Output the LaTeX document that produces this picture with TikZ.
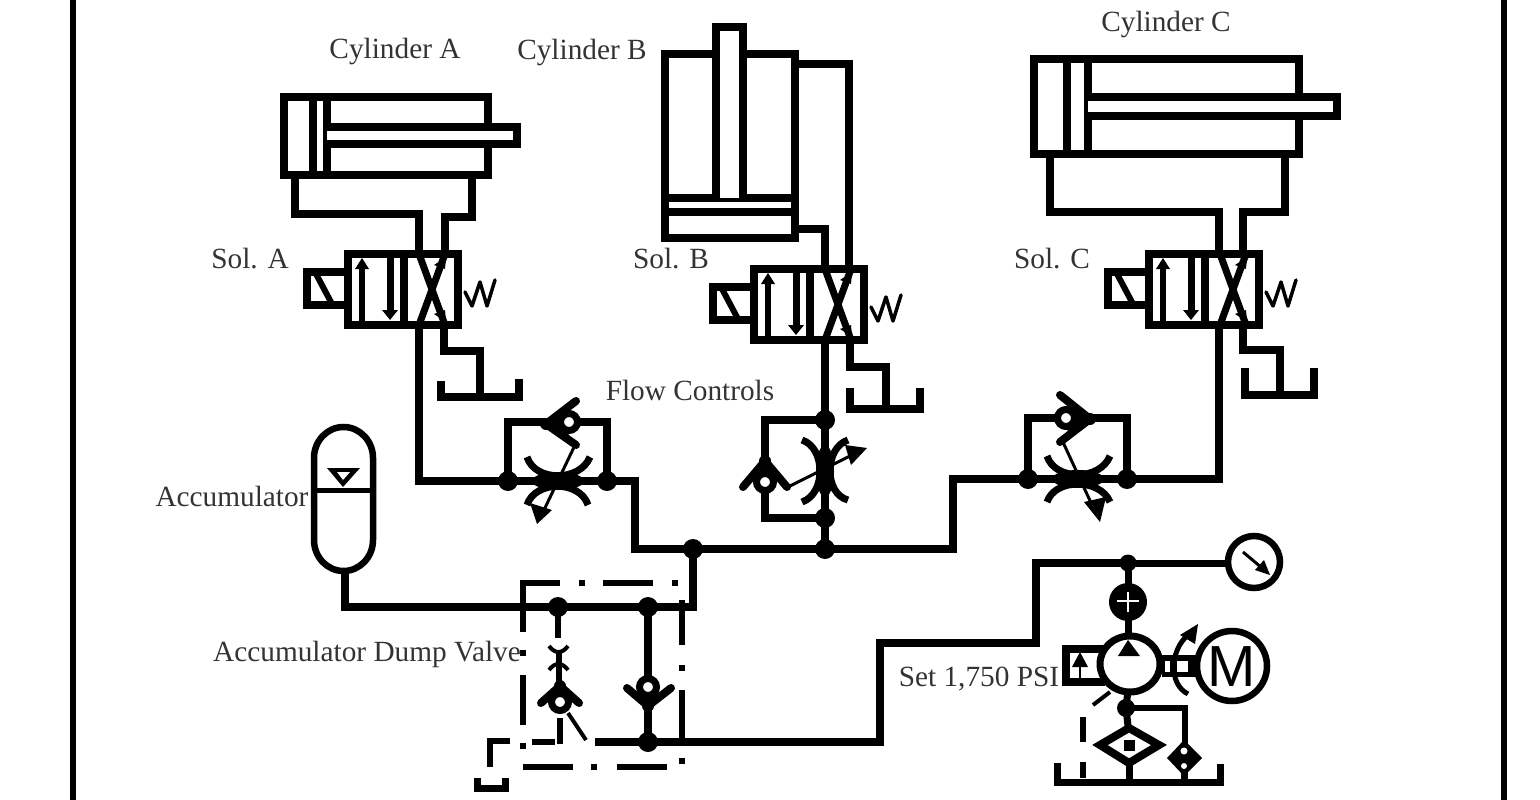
\documentclass[tikz,border=0pt]{standalone}
\usepackage{fontspec}
\setmainfont{Liberation Serif}
\newfontfamily\motorfont{Liberation Sans}
\usetikzlibrary{arrows.meta,calc}
\definecolor{lblgrey}{HTML}{333333}
\tikzset{
  pipe/.style={line width=8pt,line cap=butt,line join=miter},
  hull/.style={line width=8pt,line join=miter},
  pilot/.style={line width=5.5pt},
  lbl/.style={text=lblgrey,font=\fontsize{29.3}{29.3}\selectfont,inner sep=0pt,anchor=center},
  smalldot/.style={fill=black,inner sep=0pt,minimum size=6pt},
}
\newcommand{\dcv}[1]{%
\begin{scope}[shift={#1}]
  \draw[hull,fill=white] (-41,18) rectangle (0,51);
  \draw[line width=6pt] (-33,18) -- (-16,50);
  \draw[hull,fill=white] (0,0) rectangle (110,71);
  \draw[line width=5.5pt] (14,8) -- (14,68);
  \fill (7,15) -- (14,4) -- (21,15) -- cycle;
  \draw[line width=7pt] (42,3) -- (42,60);
  \fill (34,56) -- (42,66) -- (50,56) -- cycle;
  \draw[line width=8pt] (56,3) -- (56,68);
  \draw[line width=7pt] (71,0) -- (97,71);
  \draw[line width=7pt] (97,0) -- (71,71);
  \fill (86,11) -- (98,3) -- (97,15) -- cycle;
  \fill (86,60) -- (98,68) -- (97,56) -- cycle;
  \draw[line width=3.5pt,line join=round,line cap=round] (117,38) -- (124,52) -- (132,28) -- (139,52) -- (147,26);
\end{scope}}
\newcommand{\chkv}[4]{% ball, apex, leg1, leg2
  \fill #2 -- ($#2!0.75!#3$) -- ($#2!0.75!#4$) -- cycle;
  \draw[line width=8pt,line join=miter,line cap=round] #3 -- #2 -- #4;
  \draw[line width=7pt,fill=white] #1 circle (8.5);
  \fill #2 circle (6);}
\newcommand{\jdot}[1]{\fill (#1) circle (10);}
\begin{document}
\begin{tikzpicture}[x=1pt,y=-1pt]
\useasboundingbox (0,0) rectangle (1540,800);
\fill[white] (0,0) rectangle (1540,800);
% frame
\coordinate (fl1) at (73,0); \coordinate (fl2) at (73,800);
\coordinate (fr1) at (1504,0); \coordinate (fr2) at (1504,800);
\draw[line width=6pt] (fl1) -- (fl2);
\draw[line width=6pt] (fr1) -- (fr2);
% named points
\coordinate (vAp) at (419,328); \coordinate (vBp) at (825,343); \coordinate (vCp) at (1219,328);
\coordinate (jA1) at (508,481);
\coordinate (jA2) at (607,481);
\coordinate (jC1) at (1028,479);
\coordinate (jC2) at (1127,479);
\coordinate (jB1) at (825,420);
\coordinate (jB2) at (825,518);
\coordinate (jB3) at (825,549);
\coordinate (jM) at (693,549);
\coordinate (jD1) at (558,607);
\coordinate (jD2) at (648,607);
\coordinate (jD3) at (648,742);
\coordinate (jP) at (1128,563);
\coordinate (jS) at (1126,708);
% pipes
\draw[pipe] (vAp) |- (jA1) -- (jA2) -- (635,481) |- (jM) -- (jB3) -- (953,549) |- (jC1) -- (jC2) -| (vCp);
\draw[pipe] (vBp) -- (jB1) -- (jB2) -- (jB3);
\draw[pipe] (jA1) |- (569,422) -| (jA2);
\draw[pipe] (jC1) |- (1066,418) -| (jC2);
\draw[pipe] (jB1) -| (765,482) |- (jB2);
\draw[pipe] (jM) -- (693,607) -- (jD2) -- (jD1) -- (345,607) -- (345,570);
\draw[pipe] (jD3) -- (880,742) |- (1036,643) |- (jP);
\draw[line width=7pt] (jP) -- (1226,563);
\draw[line width=8pt] (jD2) -- (jD3);
\draw[line width=6.5pt] (jD1) -- (558,638);
\draw[pipe] (595,742) -- (jD3);
\jdot{jA1}\jdot{jA2}\jdot{jC1}\jdot{jC2}\jdot{jB1}\jdot{jB2}\jdot{jB3}\jdot{jM}\jdot{jD1}\jdot{jD2}\jdot{jD3}
\fill (jP) circle (8.5); \fill (jS) circle (9);
% flow control A
\draw[line width=7pt] (527,457) .. controls (535,482) and (580,482) .. (590,457);
\draw[line width=7pt] (527,505) .. controls (535,480) and (580,480) .. (588,505);
\fill (558,481) ellipse (26 and 9);
\draw[line width=3pt] (576,443) -- (544,510);
\fill (530,503) -- (552,510) -- (537,524) -- cycle;
\chkv{(569,422)}{(546,424)}{(576,401)}{(576,445)}
% flow control C
\draw[line width=7pt] (1047,456) .. controls (1055,481) and (1100,481) .. (1110,456);
\draw[line width=7pt] (1047,502) .. controls (1055,478) and (1100,478) .. (1110,502);
\fill (1078,479) ellipse (26 and 9);
\draw[line width=3pt] (1062,440) -- (1092,505);
\fill (1084,502) -- (1106,497) -- (1100,522) -- cycle;
\chkv{(1066,418)}{(1090,419)}{(1060,395)}{(1060,442)}
% flow control B
\draw[line width=7pt] (802,440) .. controls (826,448) and (826,494) .. (802,502);
\draw[line width=7pt] (848,440) .. controls (824,448) and (824,494) .. (848,500);
\fill (825,471) ellipse (9 and 26);
\draw[line width=3pt] (788,487) -- (850,456);
\fill (845,445) -- (867,448) -- (851,465) -- cycle;
\chkv{(765,482)}{(765,461)}{(743,487)}{(787,487)}
% cylinder A
\draw[hull] (284,97) rectangle (488,175);
\draw[hull] (313,97) -- (313,175);
\draw[hull] (327,97) -- (327,175);
\draw[line width=8pt,line join=miter,fill=white] (327,127) -- (517,127) -- (517,144) -- (327,144);
\draw[pipe] (295,175) |- (419,214) -- (419,254);
\draw[pipe] (472,175) |- (445,217) -- (445,254);
% cylinder B
\draw[hull] (665,54) rectangle (795,238);
\draw[hull] (665,198) -- (795,198);
\draw[hull] (665,212) -- (795,212);
\draw[line width=8pt,line join=miter,fill=white] (716,198) -- (716,27) -- (743,27) -- (743,198);
\draw[pipe] (795,64) -| (849,269);
\draw[pipe] (795,229) -| (825,269);
% cylinder C
\draw[hull] (1034,59) rectangle (1299,154);
\draw[hull] (1067,59) -- (1067,154);
\draw[hull] (1088,59) -- (1088,154);
\draw[line width=8pt,line join=miter,fill=white] (1088,97) -- (1337,97) -- (1337,116) -- (1088,116);
\draw[pipe] (1050,154) |- (1219,212) -- (1219,254);
\draw[pipe] (1285,154) |- (1243,212) -- (1243,254);
% valves
\dcv{(348,254)}
\dcv{(754,269)}
\dcv{(1149,254)}
% tanks
\draw[pipe] (444,325) |- (480,351) -- (480,397);
\draw[pipe] (441,381) |- (519,397) -- (519,379);
\draw[pipe] (850,340) |- (886,367) -- (886,409);
\draw[pipe] (850,388) |- (920,409) -- (920,388);
\draw[pipe] (1243,325) |- (1280,350) -- (1280,395);
\draw[pipe] (1245,368) |- (1314,395) -- (1314,368);
% accumulator
\draw[line width=6.5pt,fill=white] (314,458) arc (180:360:29.5 and 31) -- (373,540) arc (0:180:29.5 and 31) -- cycle;
\draw[line width=5pt] (314,490) -- (373,490);
\fill (327,468) -- (360,468) -- (343,487) -- cycle;
\fill[white] (337,472) -- (350,472) -- (343,480) -- cycle;
% dump valve dashes
\coordinate (dTL) at (523,583);
\draw[pilot] (523,632) -- (dTL) -- (560,583);
\draw[pilot] (603,583) -- (653,583);
\draw[pilot] (682,600) -- (682,645);
\draw[pilot] (682,690) -- (682,738);
\draw[pilot] (523,675) -- (523,725);
\draw[pilot] (523,767) -- (573,767);
\draw[pilot] (617,767) -- (667,767);
\draw[pilot] (532,742) -- (555,742);
\draw[pilot] (510,741) -- (490,741) -- (490,767);
\node[smalldot] (d1) at (582,583) {};
\node[smalldot] (d2) at (675,583) {};
\node[smalldot] (d3) at (682,668) {};
\node[smalldot] (d4) at (682,761) {};
\node[smalldot] (d5) at (594,767) {};
\node[smalldot] (d6) at (523,653) {};
\node[smalldot] (d7) at (523,746) {};
\draw[line width=7pt,line join=miter] (477,778) |- (505,788) -- (505,778);
% left branch of dump valve
\draw[line width=4pt] (549,646) .. controls (555,654) and (562,654) .. (568,646);
\draw[line width=4pt] (549,670) .. controls (555,662) and (562,662) .. (568,670);
\draw[line width=5.5pt] (559,650) -- (559,685);
\draw[line width=5.5pt] (560,718) -- (560,744);
\chkv{(560,702)}{(560,686)}{(541,703)}{(579,703)}
\draw[line width=4pt] (568,713) -- (586,740);
% right check
\chkv{(648,687)}{(648,706)}{(627,688)}{(671,688)}
% gauge
\draw[line width=6.5pt,fill=white] (1254,562) circle (26);
\draw[line width=3pt] (1243,552) -- (1262,568);
\fill (1255,570) -- (1270,575) -- (1264,560) -- cycle;
% pump group
\draw[line width=7pt] (jP) -- (1128,640);
\fill (1128,602) circle (19);
\draw[white,line width=2.5pt] (1117,601) -- (1139,601);
\draw[white,line width=2.5pt] (1128,592) -- (1128,612);
\fill (1162,655) rectangle (1200,677);
\fill[white] (1177,661) rectangle (1188,672);
\fill[white] (1165,661) rectangle (1170,672);
\draw[line width=8pt,line join=miter,fill=white] (1105,649) -- (1066,649) -- (1066,682) -- (1105,682);
\draw[line width=2pt] (1080,660) -- (1080,680);
\fill (1072,667) -- (1080,652) -- (1088,667) -- cycle;
\draw[line width=7pt,fill=white] (1130,664) ellipse (30 and 28);
\fill (1118,656) -- (1128,640) -- (1140,656) -- cycle;
\draw[line width=4pt] (1093,705) -- (1110,692);
\draw[line width=5pt] (1188,694) .. controls (1168,684) and (1170,650) .. (1188,635);
\fill (1180,635) -- (1198,624) -- (1195,644) -- cycle;
\draw[line width=6.5pt,fill=white] (1232,666) circle (35);
\node[font=\motorfont\fontsize{58}{58}\selectfont,inner sep=0pt] (mot) at (1232,667) {M};
\draw[line width=7pt] (1128,690) -- (jS) -- (1128,726);
\draw[line width=6.5pt,line join=miter] (jS) -| (1185,745);
\draw[pilot] (1083,717) -- (1083,742);
\draw[pilot] (1083,762) -- (1083,778);
\draw[line width=7pt] (1129,762) -- (1129,781);
\draw[line width=7pt] (1184,770) -- (1184,781);
\draw[line width=8pt,line join=miter,fill=white] (1129,728) -- (1159,745) -- (1129,763) -- (1100,745) -- cycle;
\fill (1124,740) rectangle (1135,751);
\fill (1184,740) -- (1202,758) -- (1184,776) -- (1167,758) -- cycle;
\fill[white] (1184,751) circle (3.5);
\fill[white] (1184,766) circle (3);
\draw[line width=7pt,line join=miter] (1057,763) |- (1220,782) -- (1220,764);
% labels
\node[lbl] (tCA) at (395,51) {Cylinder A};
\node[lbl] (tCB) at (582,52) {Cylinder B};
\node[lbl] (tCC) at (1166,24) {Cylinder C};
\node[lbl] (tSA) at (250,259) {Sol. A};
\node[lbl] (tSB) at (671,259) {Sol. B};
\node[lbl] (tSC) at (1052,259) {Sol. C};
\node[lbl] (tFC) at (690,390) {Flow Controls};
\node[lbl] (tAc) at (232,496) {Accumulator};
\node[lbl] (tDV) at (367,654) {Accumulator Dump Valve};
\node[lbl] (tSet) at (979,679) {Set 1,750 PSI};
\end{tikzpicture}
\end{document}
